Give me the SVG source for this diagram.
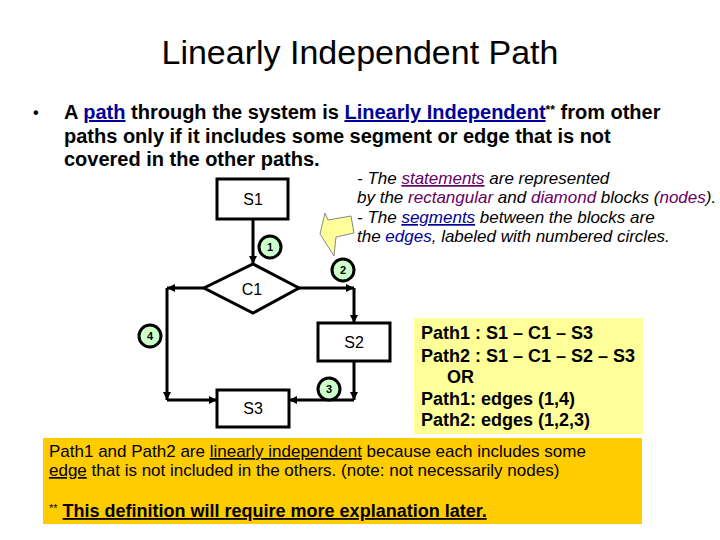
<svg xmlns="http://www.w3.org/2000/svg" width="720" height="540" viewBox="0 0 720 540">
<style>
text{font-family:"Liberation Sans",Arial,sans-serif;fill:#000}
.box{fill:#fff;stroke:#000;stroke-width:3}
.edge{fill:none;stroke:#000;stroke-width:3}
.lbl{font-size:16px;text-anchor:middle}
.circ{fill:#ccffcc;stroke:#000;stroke-width:3}
.num{font-size:11px;font-weight:bold;text-anchor:middle}
.bul{font-size:20px;font-weight:bold}
.note{font-size:17px;font-style:italic}
.pth{font-size:18px;font-weight:bold}
.bot{font-size:17px}
.u{text-decoration:underline}
.blue{fill:#000099}
.purp{fill:#660066}
</style>
<defs>
<marker id="ah" viewBox="0 0 10 10" refX="10" refY="5" markerWidth="8" markerHeight="8" markerUnits="userSpaceOnUse" orient="auto">
<path d="M0,0 L10,5 L0,10 z" fill="#000"/>
</marker>
</defs>
<rect width="720" height="540" fill="#fff"/>
<text x="360" y="64" font-size="34" text-anchor="middle">Linearly Independent Path</text>
<text x="33" y="118" font-size="16" font-weight="bold">•</text>
<text class="bul" x="64" y="119">A <tspan class="u blue">path</tspan> through the system is <tspan class="u blue">Linearly Independent</tspan><tspan font-size="12" dy="-5">**</tspan><tspan dy="5"> from other</tspan></text>
<text class="bul" x="64" y="143">paths only if it includes some segment or edge  that is not</text>
<text class="bul" x="64" y="166">covered in the other paths.</text>

<g id="callout">
<polygon points="325,213 328,220 351,216 354,233 336,237 334,256 320,234" fill="#ffff99" stroke="#888" stroke-width="1"/>
<text class="note" x="357" y="184">- The <tspan class="u purp">statements</tspan> are represented</text>
<text class="note" x="357" y="203">by the <tspan class="purp">rectangular</tspan> and <tspan class="purp">diamond</tspan> blocks (<tspan class="purp">nodes</tspan>).</text>
<text class="note" x="357" y="223">- The <tspan class="u blue">segments</tspan> between the blocks are</text>
<text class="note" x="357" y="242">the <tspan class="blue">edges</tspan>, labeled with numbered circles.</text>
</g>

<g id="connectors">
<path class="edge" d="M253,219 V264" marker-end="url(#ah)"/>
<path class="edge" d="M204,288 H167" marker-end="url(#ah)"/>
<path class="edge" d="M167,288 V400" marker-end="url(#ah)"/>
<path class="edge" d="M167,400 H217" marker-end="url(#ah)"/>
<path class="edge" d="M299,288 H354" marker-end="url(#ah)"/>
<path class="edge" d="M354,288 V323" marker-end="url(#ah)"/>
<path class="edge" d="M354,361 V400" marker-end="url(#ah)"/>
<path class="edge" d="M354,400 H289" marker-end="url(#ah)"/>
</g>

<g id="S1"><rect class="box" x="217" y="179" width="71" height="40"/><text class="lbl" x="253" y="205">S1</text></g>
<g id="C1"><polygon class="box" points="253,264 299,288 253,313 204,288"/><text class="lbl" x="252" y="295">C1</text></g>
<g id="S2"><rect class="box" x="318" y="323" width="72" height="38"/><text class="lbl" x="354" y="348">S2</text></g>
<g id="S3"><rect class="box" x="217" y="390" width="72" height="37"/><text class="lbl" x="253" y="414">S3</text></g>

<g id="e1"><circle class="circ" cx="270" cy="247" r="11"/><text class="num" x="270" y="251">1</text></g>
<g id="e2"><circle class="circ" cx="343" cy="270" r="11"/><text class="num" x="343" y="274">2</text></g>
<g id="e3"><circle class="circ" cx="329" cy="389" r="11"/><text class="num" x="329" y="393">3</text></g>
<g id="e4"><circle class="circ" cx="150" cy="336" r="11"/><text class="num" x="150" y="340">4</text></g>

<g id="paths">
<rect x="414" y="318" width="229" height="116" fill="#ffff99"/>
<text class="pth" x="421" y="339">Path1 : S1 – C1 – S3</text>
<text class="pth" x="421" y="362">Path2 : S1 – C1 – S2 – S3</text>
<text class="pth" x="447" y="383">OR</text>
<text class="pth" x="421" y="405">Path1: edges (1,4)</text>
<text class="pth" x="421" y="426">Path2: edges (1,2,3)</text>
</g>

<g id="summary">
<rect x="43" y="438" width="599" height="86" fill="#ffcc00"/>
<text class="bot" x="49" y="457">Path1 and Path2 are <tspan class="u">linearly independent</tspan> because each includes some</text>
<text class="bot" x="49" y="476"><tspan class="u">edge</tspan> that is not included in the others. (note: not necessarily nodes)</text>
<text x="49" y="517"><tspan font-size="11" dy="-5">**</tspan><tspan dy="5" font-size="18"> </tspan><tspan class="u" font-size="18" font-weight="bold">This definition will require more explanation later.</tspan></text>
</g>
</svg>
